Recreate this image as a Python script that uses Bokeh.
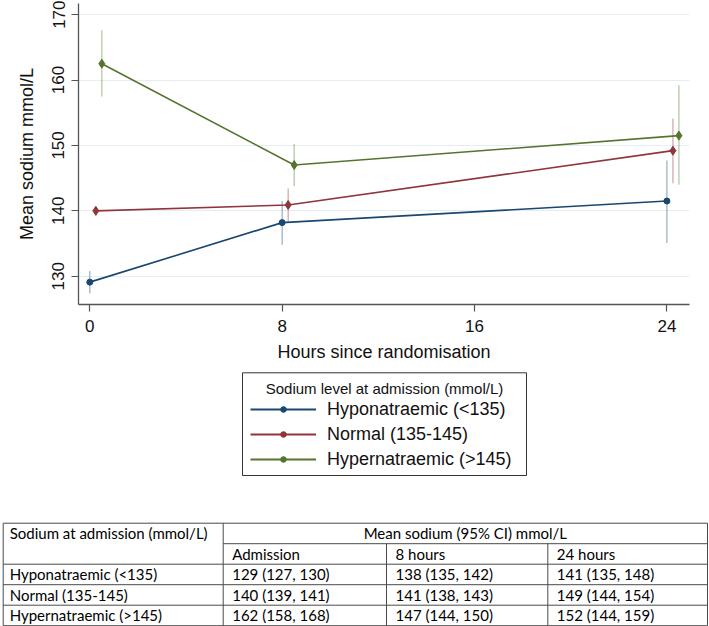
from bokeh.plotting import figure
from bokeh.models import Range1d, FixedTicker, Legend, LegendItem, ColumnDataSource
from bokeh.embed import file_html
from bokeh.resources import INLINE

# ---------------- data ----------------
hours = [0, 8, 24]
groups = ["Hyponatraemic (<135)", "Normal (135-145)", "Hypernatraemic (>145)"]
legend_title = "Sodium level at admission (mmol/L)"

hypo_mean = [129.1, 138.2, 141.5]
hypo_lo = [127.4, 134.8, 135.1]
hypo_hi = [130.8, 141.5, 147.7]

normal_mean = [140.0, 140.9, 149.2]
normal_lo = [139.3, 138.3, 144.2]
normal_hi = [140.6, 143.4, 154.1]

hyper_mean = [162.5, 147.0, 151.5]
hyper_lo = [157.5, 143.8, 144.0]
hyper_hi = [167.6, 150.2, 159.2]

x_ticks = [0, 8, 16, 24]
y_ticks = [130, 140, 150, 160, 170]

table_header = "Sodium at admission (mmol/L)"
table_span_header = "Mean sodium (95% CI) mmol/L"
table_times = ["Admission", "8 hours", "24 hours"]
table_hypo = ["129 (127, 130)", "138 (135, 142)", "141 (135, 148)"]
table_normal = ["140 (139, 141)", "141 (138, 143)", "149 (144, 154)"]
table_hyper = ["162 (158, 168)", "147 (144, 150)", "152 (144, 159)"]

# ---------------- styles ----------------
FONT = "Liberation Sans"
TFONT = "Lato"
colors = ["#1a476f", "#90353b", "#55752f"]
markers = ["circle", "diamond", "diamond"]
msizes = [6, 9, 9]
dodge = [0.0, 0.25, 0.5]

series = [
    (hypo_mean, hypo_lo, hypo_hi),
    (normal_mean, normal_lo, normal_hi),
    (hyper_mean, hyper_lo, hyper_hi),
]

# ---------------- chart ----------------
p = figure(width=709, height=365, frame_width=611, frame_height=301,
           output_backend="svg", toolbar_location=None,
           x_range=Range1d(-0.47, 24.94), y_range=Range1d(125.68, 171.7),
           min_border_left=78, min_border_right=20, min_border_top=3,
           min_border_bottom=61)
p.outline_line_color = None
p.background_fill_color = "white"
p.border_fill_color = "white"
p.xgrid.visible = False
p.ygrid.grid_line_color = "#e4eef2"
p.ygrid.grid_line_width = 1

p.xaxis.ticker = FixedTicker(ticks=x_ticks)
p.yaxis.ticker = FixedTicker(ticks=y_ticks)
p.xaxis.axis_label = "Hours since randomisation"
p.yaxis.axis_label = "Mean sodium mmol/L"
for ax in (p.xaxis[0], p.yaxis[0]):
    ax.axis_line_color = "#555555"
    ax.axis_line_width = 1.3
    ax.major_tick_line_color = "#555555"
    ax.major_tick_line_width = 1.2
    ax.major_tick_out = 7
    ax.major_tick_in = 0
    ax.minor_tick_out = 0
    ax.minor_tick_in = 0
    ax.major_label_text_font = FONT
    ax.major_label_text_font_size = "17px"
    ax.major_label_text_color = "#111111"
    ax.axis_label_text_font = FONT
    ax.axis_label_text_font_size = "18px"
    ax.axis_label_text_font_style = "normal"
    ax.axis_label_text_color = "#111111"
p.xaxis.major_label_standoff = 8
p.xaxis.axis_label_standoff = 7
p.yaxis.major_label_orientation = "vertical"
p.yaxis.major_label_standoff = 7
p.yaxis.axis_label_standoff = 13

for (m, lo, hi), c, mk, ms, off in zip(series, colors, markers, msizes, dodge):
    xs = [h + off for h in hours]
    src = ColumnDataSource(dict(x=xs, y=m, lo=lo, hi=hi))
    p.segment(x0="x", y0="lo", x1="x", y1="hi", source=src,
              line_color=c, line_alpha=0.45, line_width=1.2)
    p.line("x", "y", source=src, line_color=c, line_width=1.6)
    p.scatter("x", "y", source=src, marker=mk, size=ms,
              fill_color=c, line_color=c)

# ---------------- legend (own panel, pixel coordinates) ----------------
lg = figure(width=709, height=150, frame_width=709, frame_height=150,
            output_backend="svg", toolbar_location=None,
            x_range=Range1d(0, 709), y_range=Range1d(150, 0),
            x_axis_type=None, y_axis_type=None, min_border=0)
lg.outline_line_color = None
lg.grid.visible = False

# legend frame and centred title
lg.quad(left=[242], right=[526], top=[7.3], bottom=[110.0],
        fill_color=None, line_color="#333333", line_width=1)
lg.text(x=[384], y=[23], text=[legend_title], text_font={"value": FONT},
        text_font_size="15px", text_align="center", text_baseline="middle",
        text_color="#111111")

items = []
for g, c in zip(groups, colors):
    # proxy renderers (kept off-canvas) that carry the series styles
    esrc = ColumnDataSource(dict(x=[-100, -99], y=[-100, -100]))
    rl = lg.line("x", "y", source=esrc, line_color=c, line_width=2)
    rs = lg.scatter("x", "y", source=esrc, marker="circle", size=5,
                    fill_color=c, line_color=c)
    items.append(LegendItem(label=g, renderers=[rl, rs]))

legend = Legend(items=items, location=(250, 45), orientation="vertical")
legend.label_text_font = FONT
legend.label_text_font_size = "18px"
legend.label_text_color = "#111111"
legend.label_standoff = 11
legend.glyph_width = 66
legend.glyph_height = 14
legend.label_height = 22
legend.spacing = 3
legend.padding = 0
legend.margin = 0
legend.border_line_color = None
legend.background_fill_alpha = 0
lg.add_layout(legend)

# ---------------- table ----------------
t = figure(width=709, height=111, frame_width=709, frame_height=111,
           output_backend="svg", toolbar_location=None,
           x_range=Range1d(0, 709), y_range=Range1d(111, 0),
           x_axis_type=None, y_axis_type=None, min_border=0)
t.outline_line_color = None
t.grid.visible = False

col_x = [2.7, 222.7, 386.0, 547.3, 707.0]
row_y = [7.7, 28.2, 48.7, 69.2, 89.7, 110.2]
LC = "#4a4a4a"

hx0, hx1, hy = [], [], []
for i, y in enumerate(row_y):
    hx0.append(col_x[1] if i == 1 else col_x[0])
    hx1.append(col_x[4])
    hy.append(y)
t.segment(x0=hx0, y0=hy, x1=hx1, y1=hy, line_color=LC, line_width=1)

vx, vy0, vy1 = [], [], []
for j, x in enumerate(col_x):
    vx.append(x)
    vy0.append(row_y[1] if j in (2, 3) else row_y[0])
    vy1.append(row_y[-1])
t.segment(x0=vx, y0=vy0, x1=vx, y1=vy1, line_color=LC, line_width=1)

def mid(a, b):
    return (a + b) / 2

lx, ly, lt = [], [], []
lx.append(col_x[0] + 6.5); ly.append(mid(row_y[0], row_y[1])); lt.append(table_header)
for j, s in enumerate(table_times):
    lx.append(col_x[j + 1] + 9); ly.append(mid(row_y[1], row_y[2])); lt.append(s)
for i, (g, cells) in enumerate(zip(groups, [table_hypo, table_normal, table_hyper])):
    yy = mid(row_y[i + 2], row_y[i + 3])
    lx.append(col_x[0] + 6.5); ly.append(yy); lt.append(g)
    for j, s in enumerate(cells):
        lx.append(col_x[j + 1] + 9); ly.append(yy); lt.append(s)
t.text(x=lx, y=ly, text=lt, text_font={"value": TFONT}, text_font_size="15px",
       text_align="left", text_baseline="middle", text_color="#000000")
t.text(x=[mid(col_x[1], col_x[4])], y=[mid(row_y[0], row_y[1])], text=[table_span_header],
       text_font={"value": TFONT}, text_font_size="15px",
       text_align="center", text_baseline="middle", text_color="#000000")

open("out.html", "w").write(file_html([p, lg, t], INLINE))
